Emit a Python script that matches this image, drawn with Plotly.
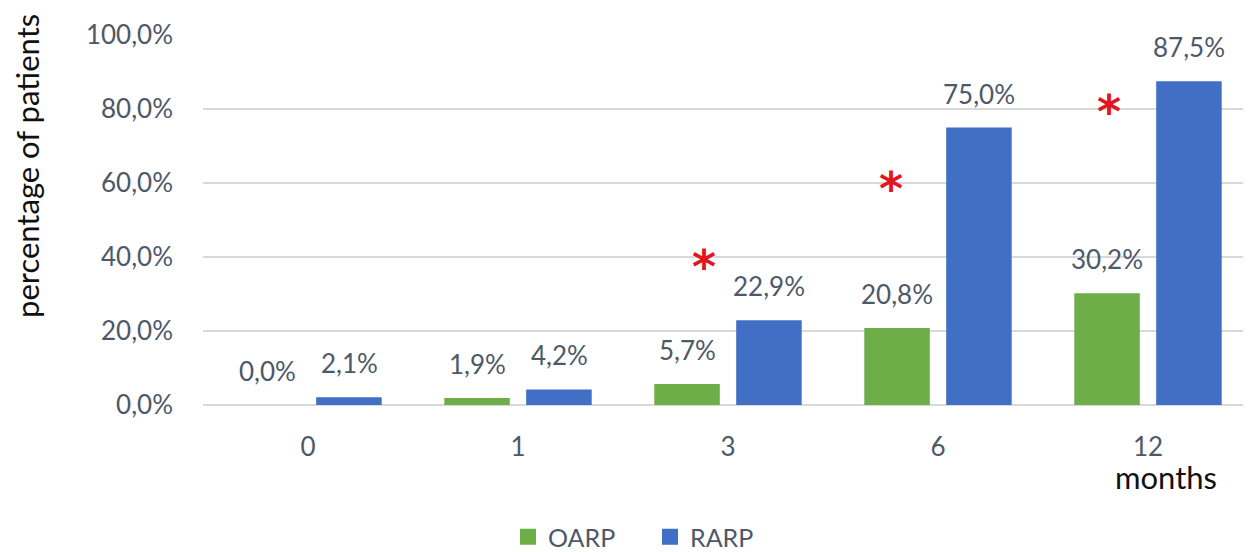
import plotly.graph_objects as go

months = ["0", "1", "3", "6", "12"]
oarp = [0.0, 1.9, 5.7, 20.8, 30.2]
rarp = [2.1, 4.2, 22.9, 75.0, 87.5]
sig_months = ["3", "6", "12"]
sig_star_y = [39.2, 60.3, 81.0]
y_ticks = [0, 20, 40, 60, 80, 100]


def pct(v):
    return f"{v:.1f}%".replace(".", ",")


FONT = "Lato"
TXT = "#4D5868"
GREEN = "#6EAE48"
BLUE = "#416FC6"

W, H = 1251, 552
# plot-area pixel frame used for paper-anchored texts
PL, PR, PT, PB = 203, 1253, 35, 405


def px(x):
    return (x - PL) / (PR - PL)


def py(y):
    return (PB - y) / (PB - PT)


fig = go.Figure()
fig.add_trace(go.Bar(name="OARP", x=months, y=oarp, showlegend=False,
                     marker=dict(color=GREEN, line=dict(width=0))))
fig.add_trace(go.Bar(name="RARP", x=months, y=rarp, showlegend=False,
                     marker=dict(color=BLUE, line=dict(width=0))))
# legend entries with larger square swatches
for name, col in (("OARP", GREEN), ("RARP", BLUE)):
    fig.add_trace(go.Scatter(name=name, x=[None], y=[None], mode="markers",
                             marker=dict(symbol="square", size=18, color=col)))

for i, m in enumerate(months):
    for val, shift in ((oarp[i], -41), (rarp[i], 41)):
        fig.add_annotation(x=i, y=val, xref="x", yref="y", text=pct(val),
                           showarrow=False, yanchor="bottom", xshift=shift, yshift=16,
                           font=dict(family=FONT, size=26, color=TXT))
star_shift = {"3": -24, "6": -47, "12": -39}
for m, sy in zip(sig_months, sig_star_y):
    fig.add_annotation(x=months.index(m), y=sy, xref="x", yref="y", text="<b>*</b>", showarrow=False,
                       xshift=star_shift[m], yshift=-7,
                       font=dict(family="DejaVu Sans", size=46, color="#E3161E"))

fig.add_annotation(x=px(1166), y=py(477), xref="paper", yref="paper", text="months",
                   showarrow=False, xanchor="center", yanchor="middle",
                   font=dict(family=FONT, size=31, color="#111111"))
fig.add_annotation(x=px(27), y=py(166), xref="paper", yref="paper",
                   text="percentage of patients", textangle=-90, showarrow=False,
                   xanchor="center", yanchor="middle", font=dict(family=FONT, size=31, color="#111111"))

fig.update_layout(
    width=W, height=H,
    margin=dict(l=195, r=6, t=27, b=155),
    paper_bgcolor="white", plot_bgcolor="white",
    barmode="group", bargap=0.22, bargroupgap=0.2,
    showlegend=True,
    legend=dict(orientation="h", xref="container", yref="container",
                x=(650 - 8) / W, xanchor="center", y=1 - (537 - 8) / H, yanchor="middle",
                font=dict(family=FONT, size=25, color=TXT), itemwidth=30, traceorder="normal",
                entrywidth=97, entrywidthmode="pixels", itemclick=False),
    font=dict(family=FONT, color=TXT),
)
fig.update_xaxes(type="category", showgrid=False, showline=False, ticks="", range=[-0.5, 4.5],
                 tickfont=dict(family=FONT, size=26, color=TXT), ticklabelstandoff=24)
fig.update_yaxes(range=[0, 100], tickvals=y_ticks, ticktext=[pct(v) for v in y_ticks],
                 showgrid=True, gridcolor="#D9D9D9", gridwidth=2, zeroline=True, zerolinecolor="#D9D9D9",
                 zerolinewidth=2, showline=False, ticks="", ticklabelstandoff=29,
                 tickfont=dict(family=FONT, size=26, color=TXT))

fig.write_html("out.html")
